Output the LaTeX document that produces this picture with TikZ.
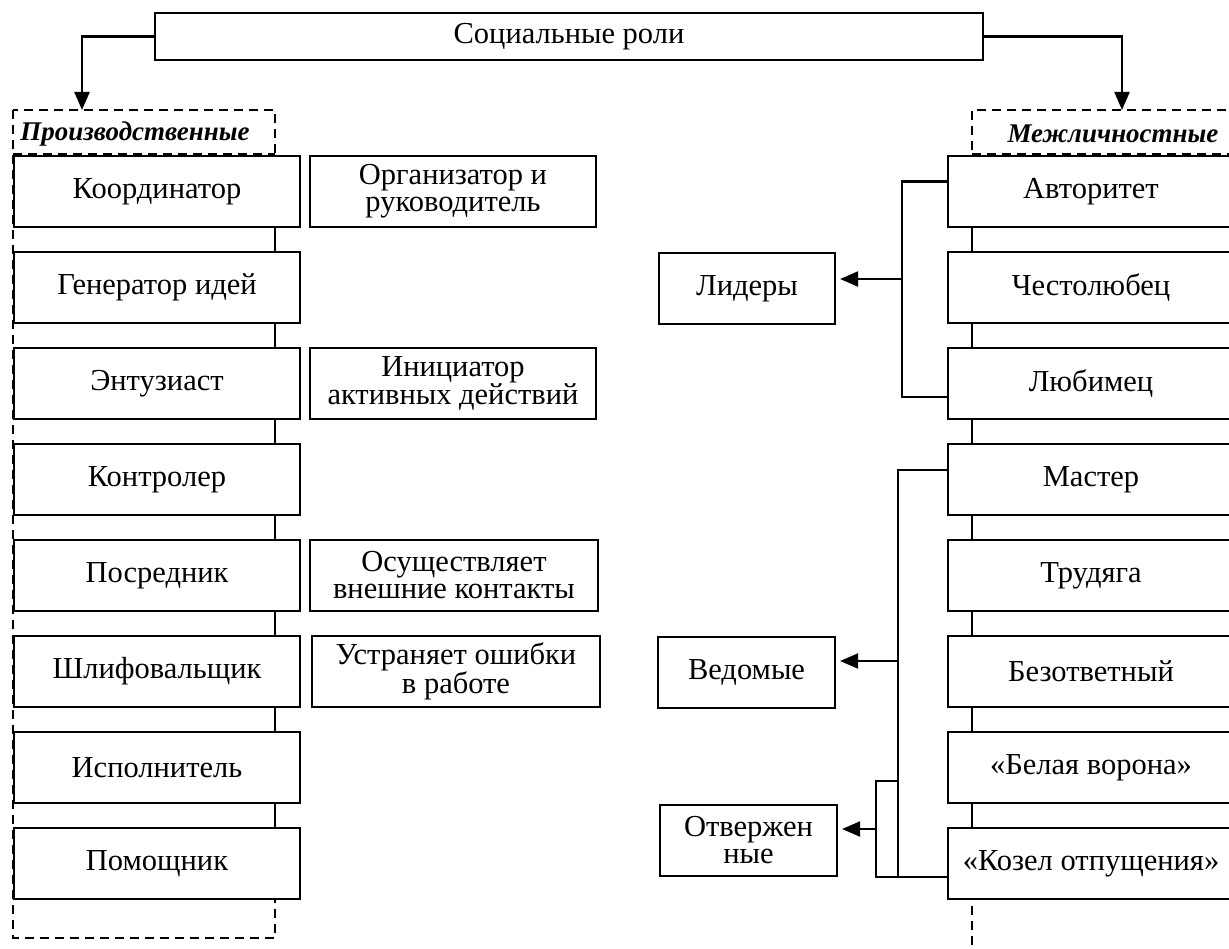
\documentclass[tikz,border=0pt]{standalone}
\usepackage{fontspec}
\setmainfont{Liberation Serif}
\usetikzlibrary{arrows.meta}
\tikzset{
  bx/.style={draw, fill=white, line width=2.2pt, inner sep=0pt, align=center,
    font=\fontsize{30.5}{27}\selectfont},
  lnk/.style={line width=2.2pt},
  conn/.style={line width=1.8pt},
  arr/.style={line width=2.2pt, -{Triangle[length=18pt,width=15pt]}},
  dsh/.style={dash pattern=on 9pt off 6pt, line width=1.7pt},
  lbl/.style={font=\fontsize{27}{27}\selectfont\bfseries\itshape},
}
\newcommand{\rbx}[6]{\node[bx, minimum width={#4-#2}, minimum height={#5-#3}] (#1) at ({(#2+#4)/2},{(#3+#5)/2}) {#6};}
\begin{document}
\begin{tikzpicture}[x=1pt,y=-1pt]
\useasboundingbox (0,0) rectangle (1229,949);
% dashed group frames
\draw[dsh] (13,110) rectangle (275,938);
\draw[dsh] (13,154) -- (275,154);
\draw[dsh] (972,960) -- (972,110) -- (1245,110);
\draw[dsh] (972,154) -- (1245,154);
\node[lbl] (plab) at (135,134) {Производственные};
\node[lbl] (mlab) at (1113,134) {Межличностные};
% top
\rbx{top}{155}{13}{983}{60}{Социальные роли}
\coordinate (lt) at (82,110);
\coordinate (rt) at (1122,110);
\draw[arr] (top.west) -| (lt);
\draw[arr] (top.east) -| (rt);
% left column
\rbx{c1}{14}{156}{300}{227}{Координатор}
\rbx{c2}{14}{252}{300}{323}{Генератор идей}
\rbx{c3}{14}{348}{300}{419}{Энтузиаст}
\rbx{c4}{14}{444}{300}{515}{Контролер}
\rbx{c5}{14}{540}{300}{611}{Посредник}
\rbx{c6}{14}{636}{300}{707}{Шлифовальщик}
\rbx{c7}{14}{732}{300}{803}{Исполнитель}
\rbx{c8}{14}{828}{300}{899}{Помощник}
\coordinate (lx) at (275,0);
\foreach \a/\b in {c1/c2,c2/c3,c3/c4,c4/c5,c5/c6,c6/c7,c7/c8}
  \draw[conn] (\a.south -| lx) -- (\b.north -| lx);
% descriptions
\rbx{d1}{310}{156}{596}{227}{Организатор и\\руководитель}
\rbx{d3}{310}{348}{596}{419}{Инициатор\\активных действий}
\rbx{d5}{310}{540}{598}{611}{Осуществляет\\внешние контакты}
\rbx{d6}{312}{636}{600}{707}{Устраняет ошибки\\в работе}
% right column
\rbx{r1}{948}{156}{1234}{227}{Авторитет}
\rbx{r2}{948}{252}{1234}{323}{Честолюбец}
\rbx{r3}{948}{348}{1234}{419}{Любимец}
\rbx{r4}{948}{444}{1234}{515}{Мастер}
\rbx{r5}{948}{540}{1234}{611}{Трудяга}
\rbx{r6}{948}{636}{1234}{707}{Безответный}
\rbx{r7}{948}{732}{1234}{803}{«Белая ворона»}
\rbx{r8}{948}{828}{1234}{899}{«Козел отпущения»}
\coordinate (rx) at (972,0);
\foreach \a/\b in {r1/r2,r2/r3,r3/r4,r4/r5,r5/r6,r6/r7,r7/r8}
  \draw[conn] (\a.south -| rx) -- (\b.north -| rx);
% groups
\rbx{lid}{659}{253}{835}{324}{Лидеры}
\rbx{ved}{658}{637}{835}{708}{Ведомые}
\rbx{otv}{660}{805}{837}{876}{Отвержен\\ные}
% leaders bracket
\coordinate (lv) at (902,397);
\coordinate (lj) at (902,279);
\draw[lnk] ([yshift=10pt]r1.west) -| (lv) -- (lv -| r3.west);
\draw[arr] (lj) -- ([xshift=4pt]lid.east |- lj);
% followers bracket
\coordinate (vv) at (898,877);
\coordinate (vj) at (898,661);
\draw[lnk] ([yshift=9.5pt]r4.west) -| (vv);
\draw[arr] (vj) -- ([xshift=4pt]ved.east |- vj);
% rejected bracket
\coordinate (ot) at (898,781);
\coordinate (ob) at (876,877);
\coordinate (oj) at (876,829);
\draw[lnk] (ot) -| (ob) -- (ob -| r8.west);
\draw[arr] (oj) -- ([xshift=4pt]otv.east |- oj);
\end{tikzpicture}
\end{document}
